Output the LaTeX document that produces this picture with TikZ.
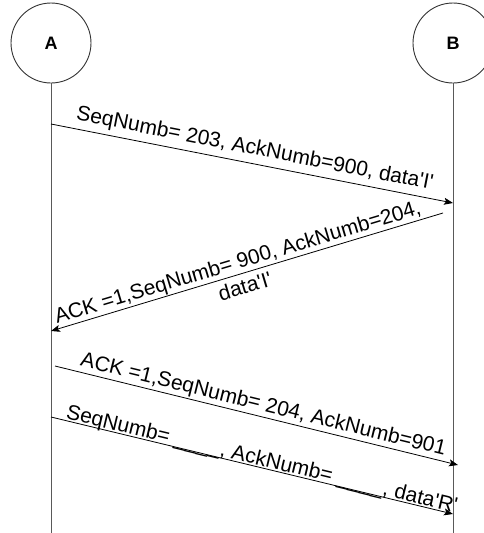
\documentclass[tikz,border=0pt]{standalone}
\usepackage{fontspec}
\setmainfont{Liberation Sans}
\usetikzlibrary{arrows.meta,positioning}
\tikzset{
party/.style = {draw=black!80, line width=0.9pt, circle, minimum size=80pt,
                inner sep=0pt, font=\fontsize{18}{20}\selectfont\bfseries},
lifeline/.style = {draw=black!65, line width=0.9pt},
msg/.style = {-{Stealth[length=9pt,width=7pt,inset=2pt]}, line width=0.8pt},
msgtext/.style = {sloped, anchor=base, inner sep=0pt,
                  font=\fontsize{21}{26}\selectfont}
}
\newcommand{\qt}{\textquotesingle}

\begin{document}
\begin{tikzpicture}[x=1pt,y=-1pt]
  \useasboundingbox (0,0) rectangle (484,533);
  \foreach \n/\x in {A/51,B/453}{
    \node[party] (\n) at (\x,43) {\n};
    \coordinate (\n end) at (\x,533);
    \draw[lifeline] (\n) -- (\n end);
  }

  % message end points
  \coordinate (a1) at (51,124);  \coordinate (b1) at (453,203);
  \coordinate (b2) at (443,213); \coordinate (a2) at (51,331);
  \coordinate (a3) at (55,366);  \coordinate (b3) at (458,465);
  \coordinate (a4) at (51,417);  \coordinate (b4) at (453,514);

  \draw[msg] (a1) -- node[msgtext, pos=0.5, yshift=9pt]
    {SeqNumb= 203, AckNumb=900, data\qt I\qt} (b1);
  \draw[msg] (b2) -- node[msgtext, pos=0.515, anchor=center, align=center]
    {ACK =1,SeqNumb= 900, AckNumb=204,\\data\qt I\qt} (a2);
  \draw[msg] (a3) -- node[msgtext, pos=0.51, yshift=6pt]
    {ACK =1,SeqNumb= 204, AckNumb=901} (b3);
  \draw[msg] (a4) -- node[msgtext, pos=0.52, yshift=2pt]
    {SeqNumb= \_\_\_\_, AckNumb= \_\_\_\_, data\qt R\qt} (b4);
\end{tikzpicture}
\end{document}
